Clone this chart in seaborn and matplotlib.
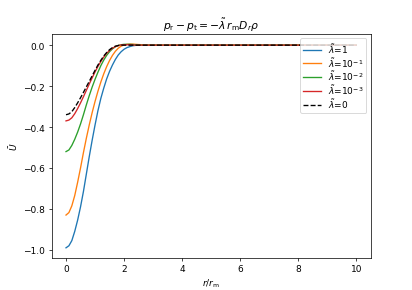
import numpy as np
import seaborn as sns
from matplotlib import pyplot as plt

# radial positions r / r_m
r = [0.0, 0.1, 0.2, 0.3, 0.4, 0.5, 0.6, 0.7, 0.8, 0.9,
     1.0, 1.1, 1.2, 1.3, 1.4, 1.5, 1.6, 1.7, 1.8, 1.9,
     2.0, 2.1, 2.2, 2.3, 2.4, 2.5, 2.6, 2.7, 2.8, 2.9,
     3.0, 4.0, 5.0, 6.0, 7.0, 8.0, 9.0, 10.0]

u_lam1 = [-0.990, -0.980, -0.955, -0.910, -0.855, -0.790, -0.715, -0.630, -0.545, -0.465,
          -0.390, -0.320, -0.260, -0.210, -0.165, -0.128, -0.097, -0.070, -0.048, -0.032,
          -0.020, -0.012, -0.007, -0.003, -0.001, 0.0, 0.0, 0.0, 0.0, 0.0,
          0.0, 0, 0, 0, 0, 0, 0, 0]
u_lam1e1 = [-0.830, -0.818, -0.785, -0.735, -0.670, -0.600, -0.525, -0.455, -0.390, -0.330,
            -0.275, -0.225, -0.180, -0.140, -0.105, -0.075, -0.050, -0.030, -0.015, -0.005,
            0.001, 0.004, 0.005, 0.005, 0.004, 0.003, 0.002, 0.001, 0.0, 0.0,
            0.0, 0, 0, 0, 0, 0, 0, 0]
u_lam1e2 = [-0.520, -0.512, -0.490, -0.460, -0.425, -0.385, -0.340, -0.292, -0.247, -0.205,
            -0.167, -0.132, -0.100, -0.073, -0.050, -0.032, -0.018, -0.008, -0.001, 0.002,
            0.004, 0.004, 0.004, 0.003, 0.002, 0.001, 0.0, 0.0, 0.0, 0.0,
            0.0, 0, 0, 0, 0, 0, 0, 0]
u_lam1e3 = [-0.370, -0.366, -0.355, -0.335, -0.310, -0.282, -0.252, -0.221, -0.190, -0.160,
            -0.131, -0.104, -0.080, -0.058, -0.040, -0.026, -0.015, -0.007, -0.002, 0.001,
            0.002, 0.002, 0.002, 0.001, 0.0, 0.0, 0.0, 0.0, 0.0, 0.0,
            0.0, 0, 0, 0, 0, 0, 0, 0]
u_lam0 = [-0.340, -0.336, -0.325, -0.305, -0.282, -0.257, -0.231, -0.204, -0.177, -0.150,
          -0.123, -0.097, -0.074, -0.053, -0.036, -0.022, -0.012, -0.005, -0.002, 0.0,
          0.0, 0.0, 0.0, 0.0, 0.0, 0.0, 0.0, 0.0, 0.0, 0.0,
          0.0, 0, 0, 0, 0, 0, 0, 0]

labels = [r'$\tilde{\lambda}$=1', r'$\tilde{\lambda}$=10$^{-1}$',
          r'$\tilde{\lambda}$=10$^{-2}$', r'$\tilde{\lambda}$=10$^{-3}$']
series = [u_lam1, u_lam1e1, u_lam1e2, u_lam1e3]
colors = ['#1f77b4', '#ff7f0e', '#2ca02c', '#d62728']

fig = plt.figure(figsize=(6.4, 4.52), dpi=64.375)
ax = fig.add_subplot(111)

for u, lab, c in zip(series, labels, colors):
    sns.lineplot(x=r, y=u, ax=ax, color=c, label=lab)
sns.lineplot(x=r, y=u_lam0, ax=ax, color='k', linestyle='--', label=r'$\tilde{\lambda}$=0')

ax.set_title(r'$p_{\rm r}-p_{\rm t}=-\tilde{\lambda}\, r_{\rm m} D_r \rho$')
ax.set_xlabel(r'$r/r_{\rm m}$')
ax.set_ylabel(r'$\bar{U}$')
ax.legend(loc='upper right', labelspacing=0.0, borderpad=0.3)

plt.savefig('out.png', dpi=64.375)
